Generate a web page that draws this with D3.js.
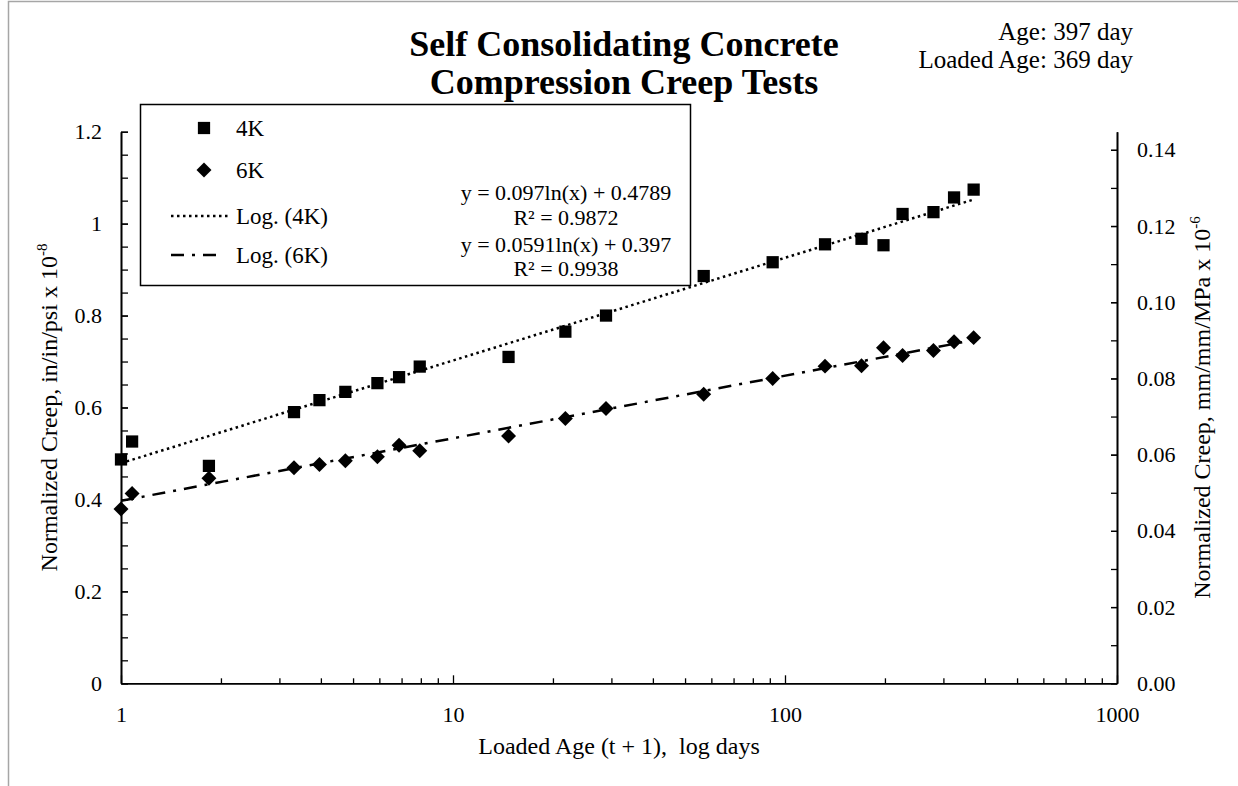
<!DOCTYPE html>
<html lang="en">
<head>
<meta charset="UTF-8">
<title>creep</title>
<script src="https://d3js.org/d3.v7.min.js"></script>
<style>
  body { margin: 0; background: #fff; }
  text { font-family: "Liberation Serif", "Times New Roman", serif; fill: #000; }
</style>
</head>
<body>
<svg width="1238" height="786"></svg>
<script>
// loaded age (t + 1), days
var age4K = [1, 1.08, 1.84, 3.32, 3.96, 4.74, 5.92, 6.88, 7.94, 14.7, 21.8, 28.9, 56.9, 91.8, 132, 170, 198, 226, 280, 323, 370];
var creep4K = [0.487, 0.526, 0.473, 0.590, 0.616, 0.634, 0.653, 0.666, 0.689, 0.710, 0.765, 0.800, 0.886, 0.916, 0.955, 0.967, 0.953, 1.021, 1.025, 1.057, 1.074];
var age6K = [1, 1.08, 1.84, 3.32, 3.96, 4.74, 5.92, 6.88, 7.94, 14.7, 21.8, 28.9, 56.9, 91.8, 132, 170, 198, 226, 280, 323, 370];
var creep6K = [0.379, 0.413, 0.446, 0.469, 0.476, 0.484, 0.493, 0.518, 0.506, 0.538, 0.576, 0.598, 0.629, 0.663, 0.690, 0.691, 0.730, 0.713, 0.724, 0.743, 0.752];

// log trendlines y = a ln(x) + b
var fit4K = [0.097, 0.4789], r2_4K = 0.9872;
var fit6K = [0.0591, 0.397], r2_6K = 0.9938;

var xTicks = [1, 10, 100, 1000];
var yTicks = [0, 0.2, 0.4, 0.6, 0.8, 1, 1.2];
var yTicksRight = [0, 0.02, 0.04, 0.06, 0.08, 0.10, 0.12, 0.14];
var rightFactor = 1 / 8.29; // secondary axis scale

var svg = d3.select('svg');
var mLeft = 121, mRight = 1117, mTop = 131.7, mBottom = 683.3;

// outer frame
svg.append('path')
  .attr('d', 'M8.5,786V1.5H1238')
  .attr('fill', 'none').attr('stroke', '#a6a6a6').attr('stroke-width', 1.5);

var x = d3.scaleLog().domain([1, 1000]).range([mLeft, mRight]);
var y = d3.scaleLinear().domain([0, 1.2]).range([mBottom, mTop]);
var yR = d3.scaleLinear().domain([0, 1.2 * rightFactor]).range([mBottom, mTop]);

// minor tick values
var xMinor = [];
[1, 10, 100].forEach(function (d) { for (var k = 2; k <= 9; k++) xMinor.push(d * k); });
var yMinor = d3.range(0, 25).map(function (i) { return i * 0.05; });
var yRMinor = d3.range(0, 15).map(function (i) { return i * 0.01; });

function styleAxis(g) {
  g.select('.domain').attr('stroke', '#000').attr('stroke-width', 1.6);
  g.selectAll('.tick line').attr('stroke', '#000').attr('stroke-width', 1.3);
  g.selectAll('.tick text').style('font-size', '22px').attr('fill', '#000')
    .style('font-family', '"Liberation Serif", serif');
}

// x axis
svg.append('g').attr('transform', 'translate(0,' + mBottom + ')')
  .call(d3.axisBottom(x).tickValues(xMinor).tickSizeInner(-5).tickSizeOuter(0).tickFormat(''))
  .call(styleAxis);
svg.append('g').attr('transform', 'translate(0,' + mBottom + ')')
  .call(d3.axisBottom(x).tickValues(xTicks).tickSizeInner(-8).tickSizeOuter(0).tickPadding(23).tickFormat(d3.format('d')))
  .call(styleAxis);

// left axis
svg.append('g').attr('transform', 'translate(' + mLeft + ',0)')
  .call(d3.axisLeft(y).tickValues(yMinor).tickSizeInner(-7).tickSizeOuter(0).tickFormat(''))
  .call(styleAxis);
svg.append('g').attr('transform', 'translate(' + mLeft + ',0)')
  .call(d3.axisLeft(y).tickValues(yTicks).tickSizeInner(-7).tickSizeOuter(0).tickPadding(19).tickFormat(function (d) { return String(d); }))
  .call(styleAxis);

// right axis
svg.append('g').attr('transform', 'translate(' + mRight + ',0)')
  .call(d3.axisRight(yR).tickValues(yRMinor).tickSizeInner(-6).tickSizeOuter(0).tickFormat(''))
  .call(styleAxis);
svg.append('g').attr('transform', 'translate(' + mRight + ',0)')
  .call(d3.axisRight(yR).tickValues(yTicksRight).tickSizeInner(-6).tickSizeOuter(0).tickPadding(20).tickFormat(d3.format('.2f')))
  .call(styleAxis);

// trendlines (straight on a log axis, drawn over the data range)
var line = d3.line().x(function (d) { return x(d[0]); }).y(function (d) { return y(d[1]); });
function trend(ages, fit) {
  return d3.extent(ages).map(function (t) { return [t, fit[0] * Math.log(t) + fit[1]]; });
}
svg.append('path').attr('d', line(trend(age4K, fit4K)))
  .attr('fill', 'none').attr('stroke', '#000').attr('stroke-width', 2.5).attr('stroke-dasharray', '2.5,3.5');
svg.append('path').attr('d', line(trend(age6K, fit6K)))
  .attr('fill', 'none').attr('stroke', '#000').attr('stroke-width', 2.5).attr('stroke-dasharray', '13,8,3,8');

// markers
var square = d3.symbol().type(d3.symbolSquare).size(150);
var diamond = d3.symbol().type(d3.symbolSquare).size(112);

svg.append('g').selectAll('path')
  .data(d3.zip(age4K, creep4K))
  .enter().append('path')
  .attr('d', square)
  .attr('transform', function (d) { return 'translate(' + x(d[0]) + ',' + y(d[1]) + ')'; })
  .attr('fill', '#000');

svg.append('g').selectAll('path')
  .data(d3.zip(age6K, creep6K))
  .enter().append('path')
  .attr('d', diamond)
  .attr('transform', function (d) { return 'translate(' + x(d[0]) + ',' + y(d[1]) + ') rotate(45)'; })
  .attr('fill', '#000');

// legend
var lg = svg.append('g');
lg.append('rect').attr('x', 140.5).attr('y', 104.5).attr('width', 550).attr('height', 181)
  .attr('fill', '#fff').attr('stroke', '#000').attr('stroke-width', 1.5);
lg.append('path').attr('d', square).attr('transform', 'translate(204,128)');
lg.append('path').attr('d', diamond).attr('transform', 'translate(204,170) rotate(45)');
lg.append('line').attr('x1', 171).attr('x2', 230).attr('y1', 216).attr('y2', 216)
  .attr('stroke', '#000').attr('stroke-width', 2.5).attr('stroke-dasharray', '2.5,3.5');
lg.append('line').attr('x1', 171).attr('x2', 224).attr('y1', 255).attr('y2', 255)
  .attr('stroke', '#000').attr('stroke-width', 2.5).attr('stroke-dasharray', '13,8,3,8');
var legendLabels = ['4K', '6K', 'Log. (4K)', 'Log. (6K)'];
var legendY = [128, 170, 216, 255];
lg.selectAll('text.lab').data(legendLabels).enter().append('text')
  .attr('class', 'lab')
  .attr('x', 236)
  .attr('y', function (d, i) { return legendY[i] + 8; })
  .style('font-size', '23px')
  .text(function (d) { return d; });

// trendline equations
var eqs = [
  'y = ' + fit4K[0] + 'ln(x) + ' + fit4K[1],
  'R\u00b2 = ' + r2_4K,
  'y = ' + fit6K[0] + 'ln(x) + ' + fit6K[1],
  'R\u00b2 = ' + r2_6K
];
var eqY = [200, 225, 252, 276];
lg.selectAll('text.eq').data(eqs).enter().append('text')
  .attr('class', 'eq')
  .attr('x', 566).attr('y', function (d, i) { return eqY[i]; })
  .attr('text-anchor', 'middle')
  .style('font-size', '22px')
  .text(function (d) { return d; });

// title
svg.append('text').attr('x', 624).attr('y', 56).attr('text-anchor', 'middle')
  .style('font-size', '36px').style('font-weight', 'bold').text('Self Consolidating Concrete');
svg.append('text').attr('x', 624).attr('y', 94).attr('text-anchor', 'middle')
  .style('font-size', '36px').style('font-weight', 'bold').text('Compression Creep Tests');

svg.append('text').attr('x', 1133).attr('y', 40).attr('text-anchor', 'end')
  .style('font-size', '25px').text('Age: 397 day');
svg.append('text').attr('x', 1133).attr('y', 68).attr('text-anchor', 'end')
  .style('font-size', '25px').text('Loaded Age: 369 day');

// axis titles
svg.append('text').attr('x', (mLeft + mRight) / 2).attr('y', 754).attr('text-anchor', 'middle')
  .style('font-size', '24px').style('white-space', 'pre').text('Loaded Age (t + 1),  log days');

var yl = svg.append('text').attr('text-anchor', 'middle')
  .attr('transform', 'translate(57,' + (mTop + mBottom) / 2 + ') rotate(-90)')
  .style('font-size', '24px');
yl.append('tspan').text('Normalized Creep, in/in/psi x 10');
yl.append('tspan').attr('dy', -10).style('font-size', '15px').text('-8');

var yr = svg.append('text').attr('text-anchor', 'middle')
  .attr('transform', 'translate(1210,' + (mTop + mBottom) / 2 + ') rotate(-90)')
  .style('font-size', '24px');
yr.append('tspan').text('Normalized Creep, mm/mm/MPa x 10');
yr.append('tspan').attr('dy', -10).style('font-size', '15px').text('-6');
</script>
</body>
</html>
